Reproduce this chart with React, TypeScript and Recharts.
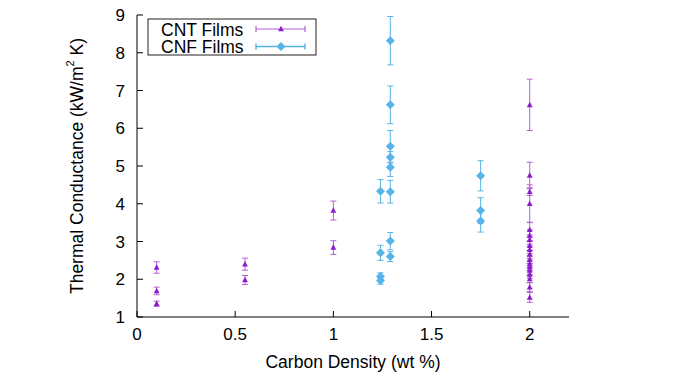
import { ErrorBar, Label, Scatter, ScatterChart, XAxis, YAxis } from "recharts";

// CNT films (purple triangles)
const cntX = [0.1, 0.1, 0.1, 0.55, 0.55, 1, 1, 2, 2, 2, 2, 2, 2, 2, 2, 2, 2, 2, 2, 2, 2, 2, 2, 2, 2];
const cntY = [2.31, 1.69, 1.35, 2.4, 1.98, 3.82, 2.84, 6.62, 4.75, 4.32, 4.0, 3.31, 3.16, 3.05, 2.89, 2.78, 2.66, 2.52, 2.41, 2.32, 2.23, 2.13, 2.01, 1.79, 1.52];
const cntErr = [0.15, 0.1, 0.07, 0.16, 0.12, 0.25, 0.18, 0.68, 0.35, 0.1, 0.5, 0.2, 0.15, 0.12, 0.12, 0.1, 0.1, 0.1, 0.1, 0.1, 0.1, 0.1, 0.1, 0.12, 0.13];

// CNF films (blue diamonds)
const cnfX = [1.24, 1.24, 1.24, 1.24, 1.29, 1.29, 1.29, 1.29, 1.29, 1.29, 1.29, 1.29, 1.75, 1.75, 1.75];
const cnfY = [4.33, 2.7, 2.07, 1.97, 8.32, 6.62, 5.52, 5.23, 4.97, 4.32, 3.01, 2.6, 4.74, 3.82, 3.54];
const cnfErr = [0.31, 0.2, 0.1, 0.1, 0.64, 0.5, 0.42, 0.15, 0.25, 0.3, 0.23, 0.13, 0.4, 0.34, 0.29];

const xTicks = [0, 0.5, 1, 1.5, 2];
const yTicks = [1, 2, 3, 4, 5, 6, 7, 8, 9];

const cnt = cntX.map((x, i) => ({ x, y: cntY[i], err: cntErr[i] }));
const cnf = cnfX.map((x, i) => ({ x, y: cnfY[i], err: cnfErr[i] }));

const PURPLE = "#8a1ccc";
const PURPLE_BAR = "#b45fd6";
const BLUE = "#56b4e9";
const FONT = "'Liberation Sans', Arial, sans-serif";

const tickStyle = { fontSize: 17, fill: "#000", fontFamily: FONT };

const Tri = (p: any) => {
  const { cx, cy } = p;
  return (
    <polygon
      points={`${cx},${cy - 3.2} ${cx + 2.9},${cy + 2.3} ${cx - 2.9},${cy + 2.3}`}
      fill={PURPLE}
    />
  );
};

const Diamond = (p: any) => {
  const { cx, cy } = p;
  return (
    <polygon
      points={`${cx},${cy - 4.5} ${cx + 4.5},${cy} ${cx},${cy + 4.5} ${cx - 4.5},${cy}`}
      fill={BLUE}
    />
  );
};

function KeyBox() {
  return (
    <svg
      width={170}
      height={38}
      style={{ position: "absolute", left: 147, top: 18 }}
    >
      <rect x={1} y={1} width={168} height={36} fill="#fff" stroke="#222" strokeWidth={1} />
      <text x={14} y={11.5} fontSize={17.5} fontFamily={FONT} dominantBaseline="central">
        CNT Films
      </text>
      <text x={14} y={28.5} fontSize={17.5} fontFamily={FONT} dominantBaseline="central">
        CNF Films
      </text>
      <g stroke={PURPLE_BAR} strokeWidth={1.2}>
        <line x1={109} y1={11} x2={158} y2={11} />
        <line x1={109} y1={8} x2={109} y2={14} />
        <line x1={158} y1={8} x2={158} y2={14} />
      </g>
      <Tri cx={134} cy={11} />
      <g stroke={BLUE} strokeWidth={1.4}>
        <line x1={109} y1={28.5} x2={158} y2={28.5} />
        <line x1={109} y1={25.5} x2={109} y2={31.5} />
        <line x1={158} y1={25.5} x2={158} y2={31.5} />
      </g>
      <Diamond cx={134} cy={28.5} />
    </svg>
  );
}

export default function App() {
  return (
    <div style={{ position: "absolute", left: 0, top: 0, width: 675, height: 377, background: "#fff" }}>
      <ScatterChart width={675} height={377} margin={{ top: 15, right: 106, bottom: 0, left: 0 }}>
        <XAxis
          xAxisId="b"
          type="number"
          dataKey="x"
          domain={[0, 2.2]}
          ticks={xTicks}
          height={60}
          tick={tickStyle}
          tickSize={-6}
          tickMargin={17}
          axisLine={{ stroke: "#000" }}
          tickLine={{ stroke: "#000" }}
        >
          <Label
            content={() => (
              <text x={353} y={362} textAnchor="middle" dominantBaseline="central" fontSize={17.5} fontFamily={FONT}>
                Carbon Density (wt %)
              </text>
            )}
          />
        </XAxis>
        <XAxis
          xAxisId="t"
          orientation="top"
          type="number"
          dataKey="x"
          domain={[0, 2.2]}
          ticks={xTicks}
          height={0}
          tickSize={-6}
          tickFormatter={() => ""}
          axisLine={{ stroke: "#000" }}
          tickLine={{ stroke: "#000" }}
        />
        <YAxis
          yAxisId="l"
          type="number"
          dataKey="y"
          domain={[1, 9]}
          ticks={yTicks}
          width={137}
          tick={tickStyle}
          tickSize={-6}
          tickMargin={18}
          axisLine={{ stroke: "#000" }}
          tickLine={{ stroke: "#000" }}
        >
          <Label
            content={() => (
              <text
                x={77}
                y={166}
                textAnchor="middle"
                dominantBaseline="central"
                fontSize={17.5}
                fontFamily={FONT}
                transform="rotate(-90, 77, 166)"
              >
                Thermal Conductance (kW/m
                <tspan dy={-7} fontSize={11}>2</tspan>
                <tspan dy={7}> K)</tspan>
              </text>
            )}
          />
        </YAxis>
        <YAxis
          yAxisId="r"
          orientation="right"
          type="number"
          dataKey="y"
          domain={[1, 9]}
          ticks={yTicks}
          width={0}
          tickSize={-6}
          tickFormatter={() => ""}
          axisLine={{ stroke: "#000" }}
          tickLine={{ stroke: "#000" }}
        />
        <Scatter
          name="CNT Films"
          data={cnt}
          xAxisId="b"
          yAxisId="l"
          shape={Tri}
          isAnimationActive={false}
        >
          <ErrorBar dataKey="err" direction="y" width={3} stroke={PURPLE_BAR} strokeWidth={1} isAnimationActive={false} />
        </Scatter>
        <Scatter
          name="CNF Films"
          data={cnf}
          xAxisId="b"
          yAxisId="l"
          shape={Diamond}
          isAnimationActive={false}
        >
          <ErrorBar dataKey="err" direction="y" width={3} stroke={BLUE} strokeWidth={1} isAnimationActive={false} />
        </Scatter>
      </ScatterChart>
      <KeyBox />
    </div>
  );
}
